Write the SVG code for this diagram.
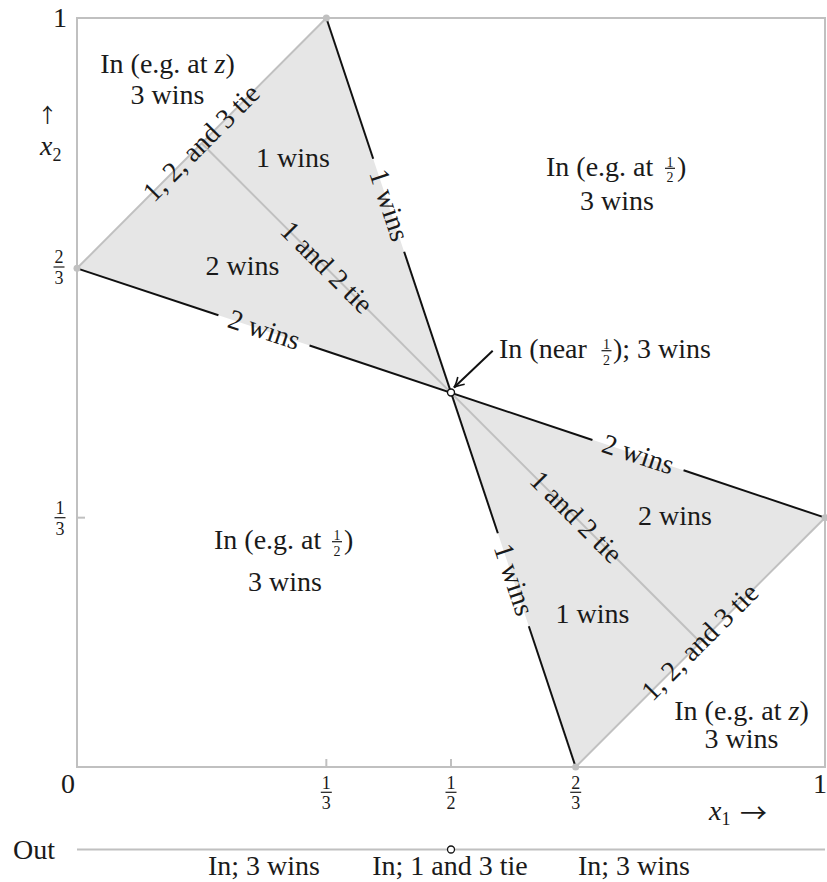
<svg xmlns="http://www.w3.org/2000/svg" width="827" height="882" viewBox="0 0 827 882">
<defs>
<style>
.t{font-family:"Liberation Serif","DejaVu Serif",serif;font-size:28px;fill:#1a1a1a}
.m{text-anchor:middle}
.fr{font-family:"Liberation Serif","DejaVu Serif",serif;font-size:14px;fill:#1a1a1a;text-anchor:middle}
.ax{font-family:"Liberation Serif","DejaVu Serif",serif;font-size:18px;fill:#1a1a1a;text-anchor:middle}
.arr{font-family:"Noto Sans CJK SC","DejaVu Sans",sans-serif;fill:#1a1a1a}
.g{stroke:#c0c0c0;stroke-width:2;fill:none}
.k{stroke:#111;stroke-width:2;fill:none}
.bar{stroke:#1a1a1a;stroke-width:1.2}
.dot{fill:#c0c0c0}
</style>
<marker id="ah" viewBox="-12 -7 14 14" markerWidth="14" markerHeight="14" refX="0" refY="0" orient="auto" markerUnits="userSpaceOnUse">
<path d="M-10,-5 Q-4,-1 0,0 Q-4,1 -10,5" fill="none" stroke="#111" stroke-width="1.6"/>
</marker>
</defs>
<rect width="827" height="882" fill="#fff"/>

<g id="regions">
<polygon points="326.33,18 77,268.33 451,392.5" fill="#e6e6e6"/>
<polygon points="575.67,767 825,517.67 451,392.5" fill="#e6e6e6"/>
</g>

<g id="frame">
<rect x="77" y="18" width="748" height="749" class="g"/>
<line x1="326.33" y1="767" x2="326.33" y2="759" class="g"/>
<line x1="451" y1="767" x2="451" y2="759" class="g"/>
<line x1="77" y1="517.67" x2="85" y2="517.67" class="g"/>
<line x1="77" y1="849.5" x2="825" y2="849.5" class="g"/>
</g>

<g id="connectors">
<line x1="77" y1="268.33" x2="326.33" y2="18" class="g"/>
<line x1="575.67" y1="767" x2="825" y2="517.67" class="g"/>
<line x1="201.67" y1="143.17" x2="700.33" y2="642.33" class="g"/>
<line x1="326.33" y1="18" x2="373.19" y2="158.76" class="k"/>
<line x1="404.15" y1="251.74" x2="497.85" y2="533.26" class="k"/>
<line x1="528.81" y1="626.24" x2="575.67" y2="767" class="k"/>
<line x1="77" y1="268.33" x2="218.44" y2="315.3" class="k"/>
<line x1="309.56" y1="345.55" x2="592.44" y2="439.96" class="k"/>
<line x1="683.56" y1="470.21" x2="825" y2="517.67" class="k"/>
<line x1="492.7" y1="350.7" x2="454" y2="387.5" class="k" stroke-width="1.6" marker-end="url(#ah)"/>
</g>

<g id="points">
<circle cx="326.33" cy="18" r="3.5" class="dot"/>
<circle cx="77" cy="268.33" r="3.5" class="dot"/>
<circle cx="825" cy="517.67" r="3.5" class="dot"/>
<circle cx="575.67" cy="767" r="3.5" class="dot"/>
<circle id="center" cx="451" cy="392.5" r="3.5" fill="#fff" stroke="#111" stroke-width="1.4"/>
<circle id="out-point" cx="451" cy="849.5" r="3.5" fill="#fff" stroke="#111" stroke-width="1.3"/>
</g>

<g id="edge-labels">
<text class="t m" transform="translate(388.67,205.25) rotate(71.58)" y="8.5">1 wins</text>
<text class="t m" transform="translate(513.33,579.75) rotate(71.58)" y="8.5">1 wins</text>
<text class="t m" transform="translate(264,330.42) rotate(18.37)" y="8.5">2 wins</text>
<text class="t m" transform="translate(638,455.08) rotate(18.37)" y="8.5">2 wins</text>
<text class="t m" transform="translate(201.67,143.17) rotate(-45.1)" y="8.5">1, 2, and 3 tie</text>
<text class="t m" transform="translate(700.33,642.33) rotate(-45)" y="8.5">1, 2, and 3 tie</text>
<text class="t m" transform="translate(326.3,267.8) rotate(45)" y="8.5">1 and 2 tie</text>
<text class="t m" transform="translate(575.67,517.4) rotate(45)" y="8.5">1 and 2 tie</text>
</g>

<g id="region-top-left">
<text class="t m" x="167.5" y="73">In (e.g. at <tspan font-style="italic">z</tspan>)</text>
<text class="t m" x="167.5" y="104">3 wins</text>
</g>
<g id="region-top-right">
<text class="t" x="546" y="176">In (e.g. at</text>
<text class="fr" x="670" y="166.8">1</text>
<line x1="665" y1="168.3" x2="675" y2="168.3" class="bar"/>
<text class="fr" x="670" y="182.3">2</text>
<text class="t" x="677" y="176">)</text>
<text class="t m" x="617" y="210">3 wins</text>
</g>
<g id="region-bottom-left">
<text class="t" x="214" y="549">In (e.g. at</text>
<text class="fr" x="337" y="540.2">1</text>
<line x1="332" y1="541.7" x2="342" y2="541.7" class="bar"/>
<text class="fr" x="337" y="555.7">2</text>
<text class="t" x="344" y="549">)</text>
<text class="t m" x="285" y="591">3 wins</text>
</g>
<g id="region-bottom-right">
<text class="t m" x="741.5" y="720">In (e.g. at <tspan font-style="italic">z</tspan>)</text>
<text class="t m" x="741.5" y="748">3 wins</text>
</g>
<g id="region-inner">
<text class="t m" x="293" y="166.7">1 wins</text>
<text class="t m" x="242.5" y="275">2 wins</text>
<text class="t m" x="675" y="525">2 wins</text>
<text class="t m" x="592.5" y="623">1 wins</text>
</g>
<g id="near-half">
<text class="t" x="499" y="358">In (near</text>
<text class="fr" x="606.5" y="349.2">1</text>
<line x1="601.5" y1="350.7" x2="611.5" y2="350.7" class="bar"/>
<text class="fr" x="606.5" y="364.7">2</text>
<text class="t" x="613" y="358">); 3 wins</text>
</g>

<g id="axes-labels">
<text class="t" x="67" y="27" text-anchor="end">1</text>
<text class="t m" x="68" y="793">0</text>
<text class="t m" x="820" y="793">1</text>
<text class="ax" x="59" y="263">2</text>
<line x1="53.5" y1="267" x2="64.5" y2="267" class="bar"/>
<text class="ax" x="59" y="284">3</text>
<text class="ax" x="60" y="514">1</text>
<line x1="54.5" y1="517.7" x2="65.5" y2="517.7" class="bar"/>
<text class="ax" x="60" y="535">3</text>
<text class="ax" x="326.3" y="789">1</text>
<line x1="320.8" y1="792.3" x2="331.8" y2="792.3" class="bar"/>
<text class="ax" x="326.3" y="809">3</text>
<text class="ax" x="451" y="789">1</text>
<line x1="445.5" y1="792.3" x2="456.5" y2="792.3" class="bar"/>
<text class="ax" x="451" y="809">2</text>
<text class="ax" x="575.7" y="789">2</text>
<line x1="570.2" y1="792.3" x2="581.2" y2="792.3" class="bar"/>
<text class="ax" x="575.7" y="809">3</text>
<text class="t" x="709" y="820"><tspan font-style="italic">x</tspan><tspan font-size="18" dy="5">1</tspan></text>
<text class="arr" x="740" y="823" font-size="27">→</text>
<text class="arr" x="37.5" y="123" font-size="20">↑</text>
<text class="t" x="40" y="155"><tspan font-style="italic">x</tspan><tspan font-size="18" dy="6">2</tspan></text>
</g>

<g id="out-row">
<text class="t" x="13" y="859">Out</text>
<text class="t m" x="264" y="875">In; 3 wins</text>
<text class="t m" x="450" y="875">In; 1 and 3 tie</text>
<text class="t m" x="634" y="875">In; 3 wins</text>
</g>
</svg>
